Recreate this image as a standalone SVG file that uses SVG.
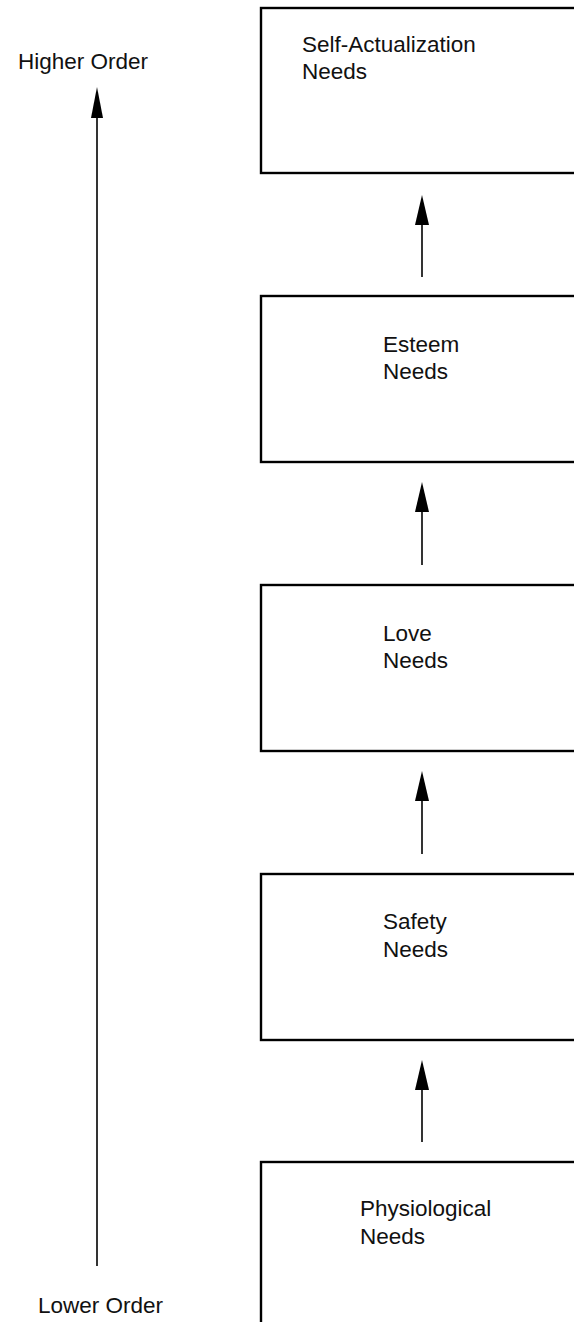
<svg xmlns="http://www.w3.org/2000/svg" width="574" height="1322" viewBox="0 0 574 1322">
  <style>
    .box { fill: #ffffff; stroke: #000000; stroke-width: 2.4; }
    .lbl { font-family: "Liberation Sans", Arial, sans-serif; font-size: 22.5px; fill: #111111; }
    .link { stroke: #000000; stroke-width: 1.6; fill: none; }
    .head { fill: #000000; }
  </style>
  <rect width="574" height="1322" fill="#ffffff"/>

  <!-- order scale on the left -->
  <g id="order-scale">
    <text class="lbl" x="18" y="69">Higher Order</text>
    <text class="lbl" x="38" y="1313">Lower Order</text>
  </g>

  <!-- need levels, lowest at the bottom -->
  <g id="self-actualization">
    <rect class="box" x="261" y="8" width="330" height="165"/>
    <text class="lbl" x="302" y="52">Self-Actualization</text>
    <text class="lbl" x="302" y="79">Needs</text>
  </g>
  <g id="esteem">
    <rect class="box" x="261" y="296" width="330" height="166"/>
    <text class="lbl" x="383" y="352">Esteem</text>
    <text class="lbl" x="383" y="379">Needs</text>
  </g>
  <g id="love">
    <rect class="box" x="261" y="585" width="330" height="166"/>
    <text class="lbl" x="383" y="641">Love</text>
    <text class="lbl" x="383" y="668">Needs</text>
  </g>
  <g id="safety">
    <rect class="box" x="261" y="874" width="330" height="166"/>
    <text class="lbl" x="383" y="929">Safety</text>
    <text class="lbl" x="383" y="957">Needs</text>
  </g>
  <g id="physiological">
    <rect class="box" x="261" y="1162" width="330" height="200"/>
    <text class="lbl" x="360" y="1216">Physiological</text>
    <text class="lbl" x="360" y="1244">Needs</text>
  </g>

  <!-- connectors -->
  <g id="connectors">
    <line class="link" x1="97" y1="1266" x2="97" y2="112"/>
    <polygon class="head" points="97,87 91,118 103,118"/>

    <line class="link" x1="422" y1="277" x2="422" y2="222"/>
    <polygon class="head" points="422,195 415,225 429,225"/>

    <line class="link" x1="422" y1="565" x2="422" y2="509"/>
    <polygon class="head" points="422,482 415,512 429,512"/>

    <line class="link" x1="422" y1="854" x2="422" y2="798"/>
    <polygon class="head" points="422,771 415,801 429,801"/>

    <line class="link" x1="422" y1="1142" x2="422" y2="1087"/>
    <polygon class="head" points="422,1060 415,1090 429,1090"/>
  </g>
</svg>
